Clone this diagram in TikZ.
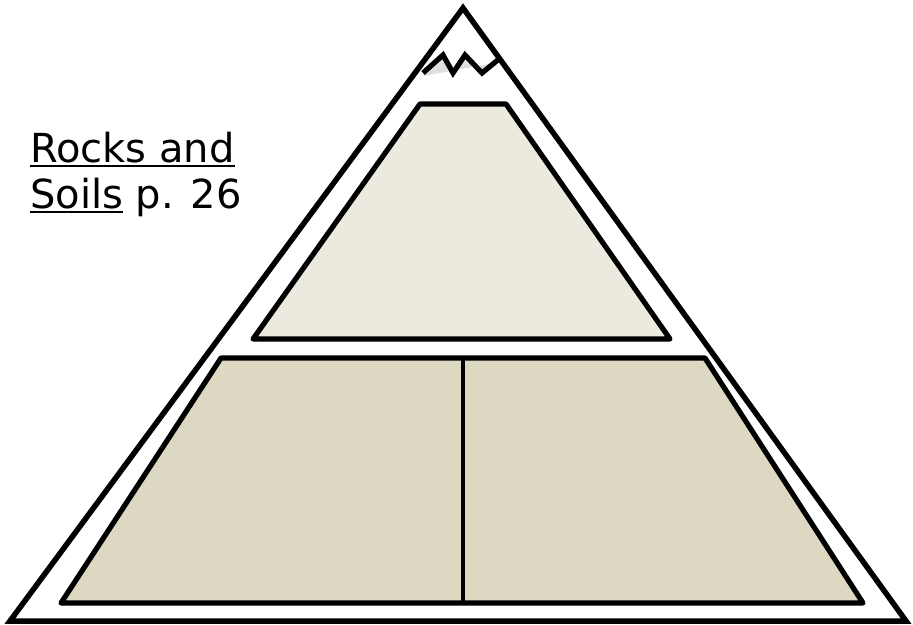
\documentclass[tikz,border=0pt]{standalone}
\usepackage{fontspec}
\setmainfont{DejaVu Sans}
\usepackage{xcolor}
\usetikzlibrary{shadows}

\definecolor{tiertop}{RGB}{236,233,222}
\definecolor{tierbase}{RGB}{221,216,194}
\newcommand{\ulword}[1]{\setbox0\hbox{#1}\rlap{\rule[-5pt]{\wd0}{2.4pt}}\box0\relax}

\begin{document}
\begin{tikzpicture}[x=1pt, y=-1pt,
        outline/.style={draw=black, line width=5.5pt, line join=miter},
        tier/.style={draw=black, line width=5.2pt, line join=round,
            drop shadow={opacity=0.2, shadow xshift=0.5pt, shadow yshift=-2pt}},
        peak/.style={draw=black, line width=5.2pt, line join=miter,
            drop shadow={opacity=0.25, shadow xshift=0.5pt, shadow yshift=-3pt}},
        caption/.style={anchor=base west, inner sep=0pt, font=\fontsize{40}{48}\selectfont}
    ]
        \useasboundingbox (0,0) rectangle (913,624);

        % outer triangle
        \draw[outline] (463,8) -- (906,621) -- (10,621) -- cycle;

        % snow cap
        \draw[peak] (423,73) -- (443,55) -- (453,73) -- (465,55) -- (482,73) -- (499,59);

        % upper tier
        \filldraw[tier, fill=tiertop] (420,104) -- (506,104) -- (670,339) -- (253,339) -- cycle;

        % lower tier, split in two
        \filldraw[tier, fill=tierbase] (221,358) -- (705,358) -- (863,603) -- (61,603) -- cycle;
        \coordinate (splittop) at (463,358);
        \coordinate (splitbot) at (463,603);
        \draw[line width=4.5pt] (splittop) -- (splitbot);

        % reference label
        \node[caption] (lineone) at (30,162) {\ulword{Rocks and}};
        \node[caption] (linetwo) at (30,208) {\ulword{Soils} p.\hspace{0.42em}26};
    \end{tikzpicture}
\end{document}
